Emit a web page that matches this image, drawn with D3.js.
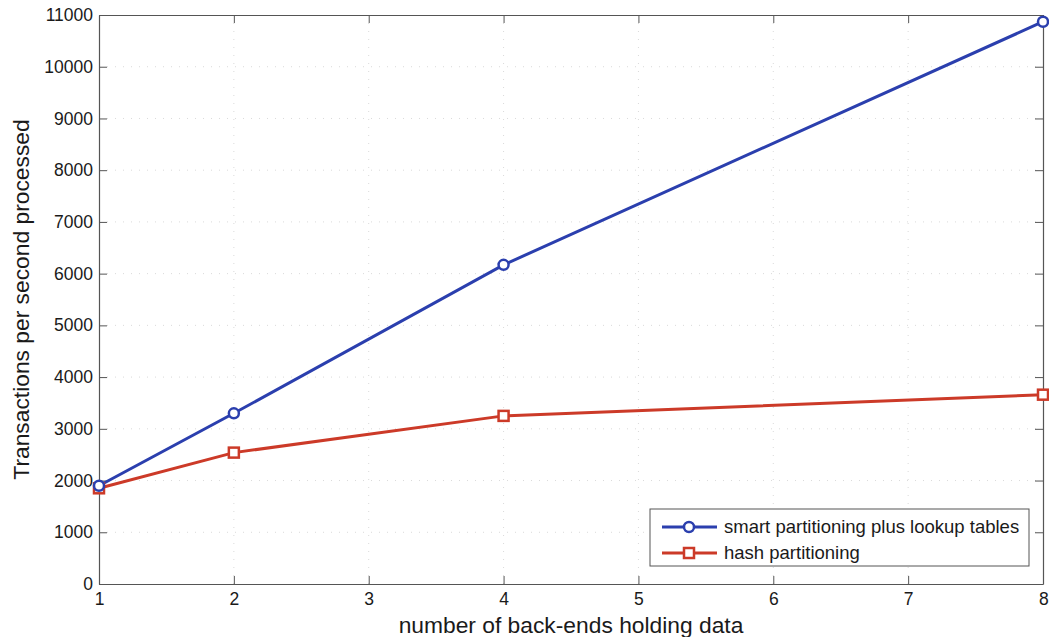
<!DOCTYPE html>
<html>
<head>
<meta charset="utf-8">
<script src="https://cdn.jsdelivr.net/npm/d3@7"></script>
<style>
  body { margin: 0; background: #fff; }
  svg text { font-family: "Liberation Sans", Arial, Helvetica, sans-serif; fill: #1a1a1a; }
</style>
</head>
<body>
<svg id="chart"></svg>
<script>
const width = 1049, height = 637;

// data
const backends = [1, 2, 4, 8];
const smartTps = [1900, 3300, 6170, 10870];
const hashTps = [1850, 2540, 3250, 3660];
const xTicks = [1, 2, 3, 4, 5, 6, 7, 8];
const yTicks = d3.range(0, 11001, 1000);
const seriesNames = ["smart partitioning plus lookup tables", "hash partitioning"];
const seriesColors = ["#2b3fae", "#cc3a28"];

const margin = {top: 15, right: 6, bottom: 53, left: 99};
const innerW = width - margin.left - margin.right;
const innerH = height - margin.top - margin.bottom;

const svg = d3.select("#chart")
    .attr("width", width)
    .attr("height", height);

const g = svg.append("g").attr("transform", `translate(${margin.left},${margin.top})`);

const x = d3.scaleLinear().domain([1, 8]).range([0, innerW]);
const y = d3.scaleLinear().domain([0, 11000]).range([innerH, 0]);

// faint dotted grid
g.append("g")
    .selectAll("line")
    .data(yTicks.slice(1, -1))
    .join("line")
    .attr("x1", 0).attr("x2", innerW)
    .attr("y1", d => y(d)).attr("y2", d => y(d))
    .attr("stroke", "#dadada")
    .attr("stroke-width", 1)
    .attr("stroke-dasharray", "1,7");

g.append("g")
    .selectAll("line")
    .data(xTicks.slice(1, -1))
    .join("line")
    .attr("y1", 0).attr("y2", innerH)
    .attr("x1", d => x(d)).attr("x2", d => x(d))
    .attr("stroke", "#dadada")
    .attr("stroke-width", 1)
    .attr("stroke-dasharray", "1,7");

// axes with inward ticks
const fmt = d3.format("d");
const xAxis = g.append("g")
    .attr("transform", `translate(0,${innerH})`)
    .call(d3.axisBottom(x).tickValues(xTicks).tickFormat(fmt).tickSizeInner(-8).tickSizeOuter(0).tickPadding(9));
const xAxisTop = g.append("g")
    .call(d3.axisTop(x).tickValues(xTicks).tickSizeInner(-8).tickSizeOuter(0).tickFormat(""));
const yAxis = g.append("g")
    .call(d3.axisLeft(y).tickValues(yTicks).tickFormat(fmt).tickSizeInner(-8).tickSizeOuter(0).tickPadding(6));
const yAxisRight = g.append("g")
    .attr("transform", `translate(${innerW},0)`)
    .call(d3.axisRight(y).tickValues(yTicks).tickSizeInner(-8).tickSizeOuter(0).tickFormat(""));

[xAxis, xAxisTop, yAxis, yAxisRight].forEach(a => {
    a.select(".domain").attr("stroke", "#555").attr("stroke-width", 1.2);
    a.selectAll(".tick line").attr("stroke", "#555");
    a.selectAll("text").style("font-size", "17.5px").attr("fill", "#1a1a1a");
});
// last x label sits on the right edge, keep it inside the page
xAxis.selectAll(".tick text").filter(d => d === 8).attr("text-anchor", "end").attr("dx", "0.3em");

// lines and markers
const line = d3.line().x(d => x(d[0])).y(d => y(d[1]));
const smartData = backends.map((b, i) => [b, smartTps[i]]);
const hashData = backends.map((b, i) => [b, hashTps[i]]);

g.append("path").datum(hashData)
    .attr("d", line).attr("fill", "none")
    .attr("stroke", seriesColors[1]).attr("stroke-width", 3);
g.append("path").datum(smartData)
    .attr("d", line).attr("fill", "none")
    .attr("stroke", seriesColors[0]).attr("stroke-width", 3);

g.selectAll(".sq").data(hashData).join("rect")
    .attr("x", d => x(d[0]) - 5).attr("y", d => y(d[1]) - 5)
    .attr("width", 10).attr("height", 10)
    .attr("fill", "#fff").attr("stroke", seriesColors[1]).attr("stroke-width", 2.5);
g.selectAll(".ci").data(smartData).join("circle")
    .attr("cx", d => x(d[0])).attr("cy", d => y(d[1])).attr("r", 5)
    .attr("fill", "#fff").attr("stroke", seriesColors[0]).attr("stroke-width", 2.5);

// axis titles
svg.append("text")
    .attr("x", margin.left + innerW / 2).attr("y", 633)
    .attr("text-anchor", "middle")
    .style("font-size", "22.8px")
    .text("number of back-ends holding data");
svg.append("text")
    .attr("transform", `translate(29,${margin.top + innerH / 2}) rotate(-90)`)
    .attr("text-anchor", "middle")
    .style("font-size", "22.8px")
    .text("Transactions per second processed");

// legend
const legend = svg.append("g").attr("transform", "translate(650,509)");
legend.append("rect")
    .attr("width", 379).attr("height", 57)
    .attr("fill", "#fff").attr("stroke", "#555").attr("stroke-width", 1);
seriesNames.forEach((name, i) => {
    const ly = 18 + i * 26;
    legend.append("line")
        .attr("x1", 12).attr("x2", 67).attr("y1", ly).attr("y2", ly)
        .attr("stroke", seriesColors[i]).attr("stroke-width", 3);
    if (i === 0) {
        legend.append("circle").attr("cx", 39).attr("cy", ly).attr("r", 5)
            .attr("fill", "#fff").attr("stroke", seriesColors[i]).attr("stroke-width", 2.5);
    } else {
        legend.append("rect").attr("x", 34).attr("y", ly - 5).attr("width", 10).attr("height", 10)
            .attr("fill", "#fff").attr("stroke", seriesColors[i]).attr("stroke-width", 2.5);
    }
    legend.append("text")
        .attr("x", 74).attr("y", ly + 6)
        .style("font-size", "18.5px")
        .text(name);
});
</script>
</body>
</html>
